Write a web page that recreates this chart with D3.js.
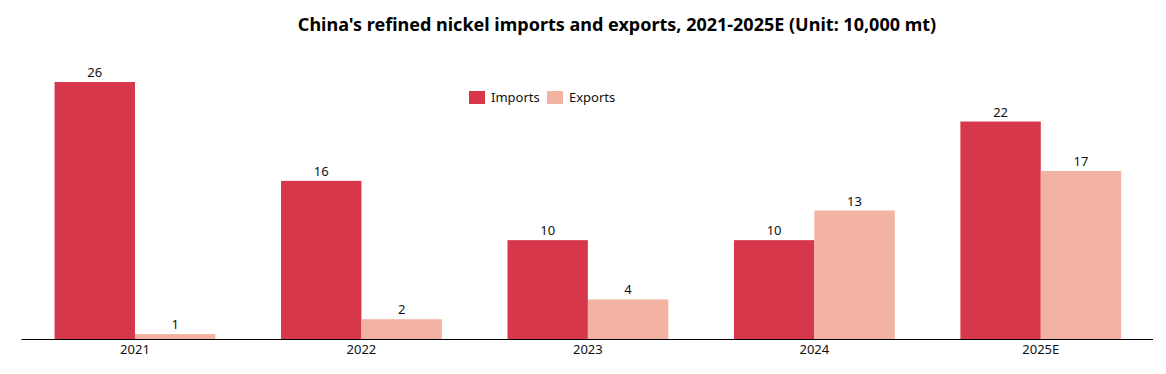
<!DOCTYPE html>
<html>
<head>
<meta charset="utf-8">
<script src="https://cdn.jsdelivr.net/npm/d3@7"></script>
<style>
  body { margin: 0; background: #fff; }
  text { font-family: "Noto Sans", Roboto, sans-serif; }
</style>
</head>
<body>
<div id="chart"></div>
<script>
// data
const years = ['2021', '2022', '2023', '2024', '2025E'];
const series = ['Imports', 'Exports'];
const imports = [26, 16, 10, 10, 22];
const exports = [0.5, 2, 4, 13, 17];
const colors = ['#d6374a', '#f3b3a2'];

const width = 1166, height = 374;
const baseline = 339;

const svg = d3.select('#chart')
  .append('svg')
  .attr('width', width)
  .attr('height', height);

const x = d3.scaleBand()
  .domain(years)
  .range([21.75, 1154])
  .paddingInner(0.29)
  .paddingOuter(0.145);

const xSub = d3.scaleBand()
  .domain(series)
  .range([0, x.bandwidth()]);

const y = d3.scaleLinear()
  .domain([0, 26])
  .range([baseline, 82]);

const color = d3.scaleOrdinal().domain(series).range(colors);

const rows = years.map((yr, i) => ({year: yr, values: [imports[i], exports[i]]}));

// title
svg.append('text')
  .attr('x', 617)
  .attr('y', 31)
  .attr('text-anchor', 'middle')
  .style('font-size', '18px')
  .style('font-weight', 'bold')
  .style('fill', '#000')
  .text("China's refined nickel imports and exports, 2021-2025E (Unit: 10,000 mt)");

const groups = svg.append('g')
  .selectAll('g')
  .data(rows)
  .join('g')
  .attr('transform', d => `translate(${x(d.year)},0)`);

groups.selectAll('rect')
  .data(d => d.values.map((v, j) => ({key: series[j], value: v})))
  .join('rect')
  .attr('x', d => xSub(d.key))
  .attr('y', d => y(d.value))
  .attr('width', xSub.bandwidth())
  .attr('height', d => y(0) - y(d.value))
  .attr('fill', d => color(d.key));

groups.selectAll('text.val')
  .data(d => d.values.map((v, j) => ({key: series[j], value: v})))
  .join('text')
  .attr('class', 'val')
  .attr('x', d => xSub(d.key) + xSub.bandwidth() / 2)
  .attr('y', d => y(d.value) - 5)
  .attr('text-anchor', 'middle')
  .style('font-size', '13px')
  .style('fill', '#111')
  .text(d => Math.round(d.value));

// x axis
const xAxis = svg.append('g')
  .attr('transform', `translate(0,${baseline})`)
  .call(d3.axisBottom(x).tickSize(0).tickPadding(6));
xAxis.select('.domain').attr('stroke', '#000').attr('d', 'M21.5,0.5H1153');
xAxis.selectAll('text')
  .style('font-size', '13px')
  .style('fill', '#111')
  .style('font-family', '"Noto Sans", Roboto, sans-serif');

// legend
const legend = svg.append('g');
const legendX = [469, 547];
series.forEach((s, i) => {
  legend.append('rect')
    .attr('x', legendX[i])
    .attr('y', 91)
    .attr('width', 16)
    .attr('height', 13)
    .attr('fill', color(s));
  legend.append('text')
    .attr('x', legendX[i] + 22)
    .attr('y', 102)
    .style('font-size', '13px')
    .style('fill', '#111')
    .text(s);
});
</script>
</body>
</html>
